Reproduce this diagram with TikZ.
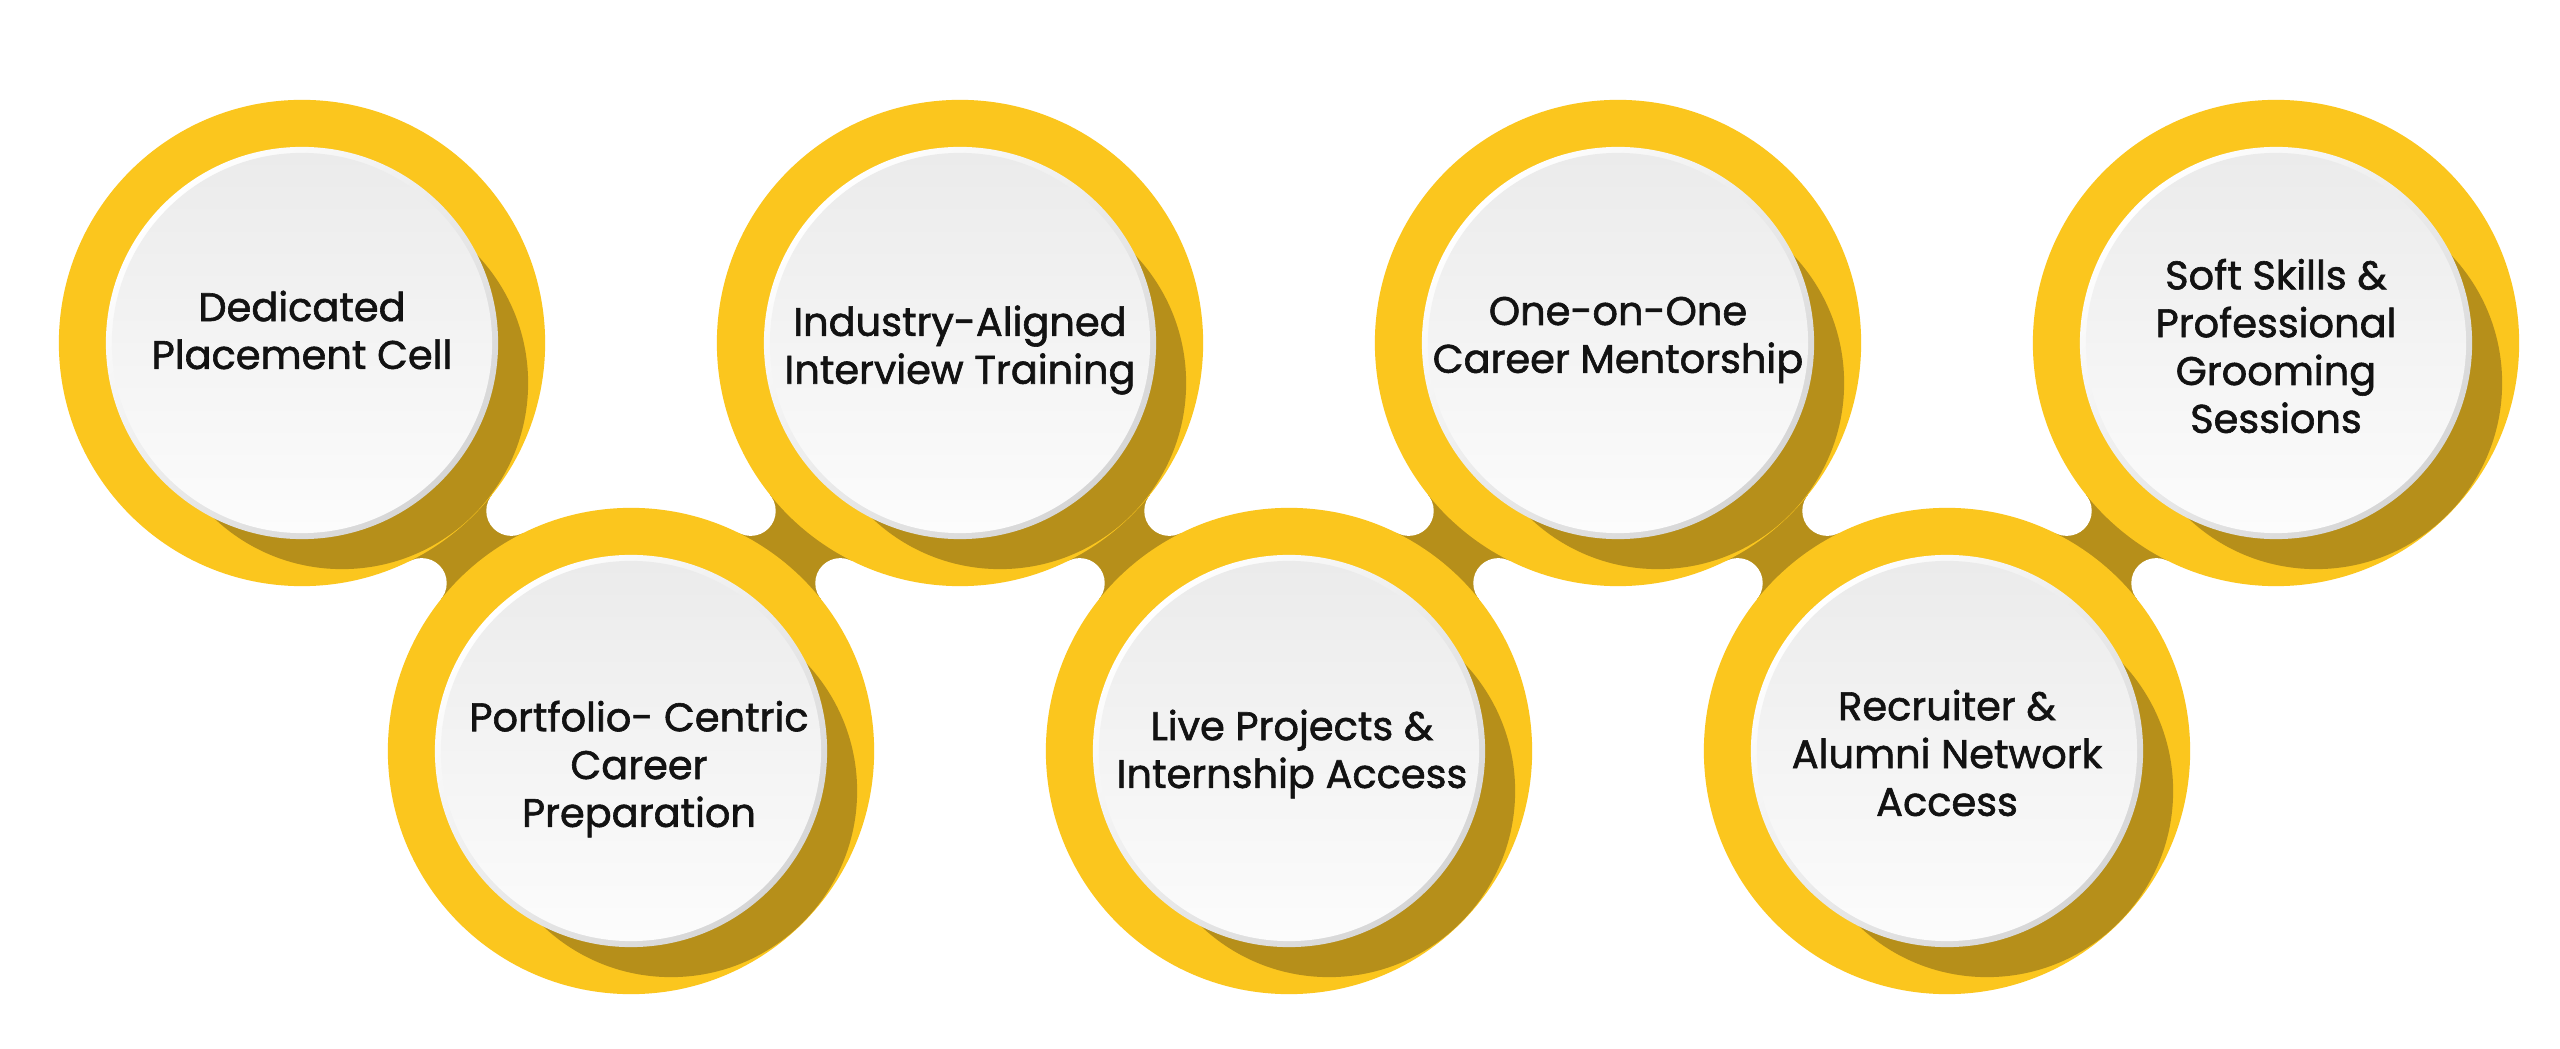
\documentclass[tikz,border=0pt]{standalone}
\usepackage{fontspec}
\setmainfont{Poppins}[FakeBold=1.5]
\usepackage{tikz}
\usetikzlibrary{backgrounds}
\usetikzlibrary{calc}
\definecolor{ringYellow}{RGB}{251,198,30}
\definecolor{linkDark}{RGB}{182,143,26}
\definecolor{rimGrey}{RGB}{214,214,214}
\definecolor{faceGrey}{RGB}{235,235,235}
\definecolor{faceWhite}{RGB}{252,252,252}
\tikzstyle{diagram}=[x=0.01cm, y=-0.01cm]
\tikzstyle{ring}=[circle, inner sep=0pt, minimum size=4.86cm, fill=ringYellow, path picture={
	\fill[linkDark] ($(path picture bounding box.center)+(0.4cm,-0.4cm)$) circle (1.86cm);
	\shade[top color=white, bottom color=rimGrey, shading angle=45] (path picture bounding box.center) circle (1.96cm);
	\shade[top color=faceGrey, bottom color=faceWhite] (path picture bounding box.center) circle (1.9cm);
}]
\tikzstyle{rtext}=[inner sep=0pt, align=center, text=black!93, font=\fontsize{11.35}{13.6}\selectfont]
\tikzstyle{link}=[fill=linkDark]
\tikzstyle{bite}=[fill=white]
\newcommand{\topY}{343}
\newcommand{\botY}{751}
\newcommand{\biteT}{0.575cm}
\newcommand{\biteR}{0.25cm}
\newcommand{\bridge}[2]{%
	\fill[link] (#1.center) -- ($(#1.center)!.5!(#2.center)!\biteT!90:(#2.center)$) -- (#2.center) -- ($(#1.center)!.5!(#2.center)!\biteT!-90:(#2.center)$) -- cycle;
	\fill[bite] ($(#1.center)!.5!(#2.center)!\biteT!90:(#2.center)$) circle (\biteR);
	\fill[bite] ($(#1.center)!.5!(#2.center)!\biteT!-90:(#2.center)$) circle (\biteR);
}
\begin{document}
\begin{tikzpicture}[diagram]
	\useasboundingbox (0,0) rectangle (2560,1049);
	
	\draw (302,\topY) node[ring] (c1) {};
	\draw (631,\botY) node[ring] (c2) {};
	\draw (960,\topY) node[ring] (c3) {};
	\draw (1289,\botY) node[ring] (c4) {};
	\draw (1618,\topY) node[ring] (c5) {};
	\draw (1947,\botY) node[ring] (c6) {};
	\draw (2276,\topY) node[ring] (c7) {};
	
	%The texts on the rings
	\node[rtext] (t1) at ($(c1)+(0,-13)$) {Dedicated\\Placement Cell};
	\node[rtext] (t2) at ($(c2)+(8,18)$) {Portfolio- Centric\\Career\\Preparation};
	\node[rtext] (t3) at ($(c3)+(0,7)$) {Industry-Aligned\\Interview Training};
	\node[rtext] (t4) at ($(c4)+(3,3)$) {Live Projects \&\\Internship Access};
	\node[rtext] (t5) at ($(c5)+(0,-3)$) {One-on-One\\Career Mentorship};
	\node[rtext] (t6) at ($(c6)+(0,2)$) {Recruiter \&\\Alumni Network\\Access};
	\node[rtext] (t7) at ($(c7)+(0,3)$) {Soft Skills \&\\Professional\\Grooming\\Sessions};
	
	%The bridges behind the rings
	\begin{scope}[on background layer]
		\fill[white] (0,0) rectangle (2560,1049);
		\bridge{c1}{c2}
		\bridge{c2}{c3}
		\bridge{c3}{c4}
		\bridge{c4}{c5}
		\bridge{c5}{c6}
		\bridge{c6}{c7}
	\end{scope}
\end{tikzpicture}
\end{document}
